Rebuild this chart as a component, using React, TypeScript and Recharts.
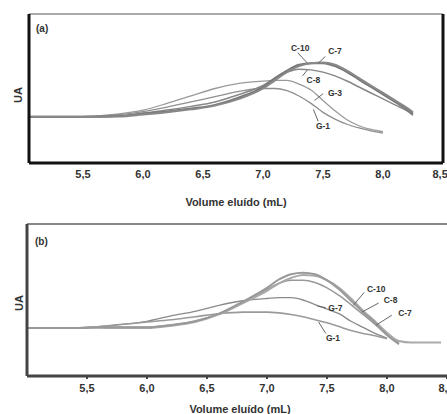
import { LineChart, Line, XAxis, YAxis, ReferenceLine, ReferenceDot } from 'recharts';

const X_TICKS = [5.5, 6.0, 6.5, 7.0, 7.5, 8.0, 8.5];

// panel (a)
const volA = [5.05, 5.4, 5.6, 5.8, 6.0, 6.2, 6.4, 6.6, 6.8, 7.0, 7.1, 7.2, 7.3, 7.4, 7.5, 7.6, 7.7, 7.8, 7.9, 8.0, 8.1, 8.2, 8.25];
const c10A = [31, 31, 31, 31.5, 33, 34.5, 36.5, 39, 44, 51, 57, 62, 66, 67, 67, 65, 61, 56, 51, 46, 41, 36, 33];
const c7A = [31, 31, 31, 31.2, 32.5, 34, 36, 38.5, 43, 50, 55.5, 61, 65, 67, 67.5, 66, 62, 57, 52, 47, 42, 37, 34];
const c8A = [31, 31, 31, 31.5, 33.5, 35.5, 38, 41, 46, 52, 57, 61, 63, 62.5, 61, 58.5, 55, 51, 47, 43, 39, 35, 32];
const g3A = [31, 31, 31.5, 33, 35.5, 40, 45, 50, 53.5, 55, 55.5, 55.5, 53, 49, 42, 35, 29, 25, 22.5, 21, null, null, null];
const g1A = [31, 31, 31.5, 32.5, 34.5, 37.5, 41, 44.5, 48, 50, 50, 48.5, 45, 40, 34, 29.5, 26, 23.5, 21.5, 20, null, null, null];

// panel (b)
const volB = [5.0, 5.4, 5.6, 5.8, 6.0, 6.2, 6.4, 6.6, 6.8, 7.0, 7.1, 7.2, 7.3, 7.4, 7.5, 7.6, 7.7, 7.8, 7.9, 8.0, 8.1, 8.2, 8.3, 8.45];
const c10B = [31.6, 31.6, 32, 32, 32, 33.5, 36, 41, 49, 58, 63.5, 67, 68, 67, 63, 57, 49.5, 42, 35, 27, 21, null, null, null];
const c8B = [31.6, 31.6, 32, 32, 32, 33.5, 36, 41, 48.5, 57, 61, 63, 63, 61.5, 58, 53, 47, 40.5, 34, 27, 22, null, null, null];
const c7B = [31.6, 31.6, 31.8, 31.5, 31.5, 33, 35.5, 40.5, 48, 56, 61, 64.5, 66.5, 66, 63, 58, 51, 43, 36, 28.5, 23, 22, 22, 22];
const g7B = [31.6, 31.6, 32.5, 34, 36, 39.5, 42.5, 46.5, 49.5, 51, 51.5, 51.5, 50, 47, 44, 41, 36, 32, 28, 25, null, null, null, null];
const g1B = [31.6, 31.6, 32.5, 34, 35.5, 37, 39, 41, 42, 42, 41.5, 40.5, 39, 37, 35, 32.5, 30, 28, 26.5, 24.5, null, null, null, null];

// curve labels: text position and leader line (data units)
const notesA = [
  { text: 'C-10', x: 7.31, y: 77, from: [7.37, 67], to: [7.29, 74] },
  { text: 'C-7', x: 7.6, y: 75, from: [7.46, 67], to: [7.52, 71.5] },
  { text: 'C-8', x: 7.42, y: 55.5, from: [7.37, 62.5], to: [7.33, 58.5] },
  { text: 'G-3', x: 7.6, y: 47, from: [7.43, 42], to: [7.5, 46.5] },
  { text: 'G-1', x: 7.5, y: 25, from: [7.42, 36], to: [7.46, 28] },
];
const notesB = [
  { text: 'C-10', x: 7.91, y: 57, from: [7.72, 46.5], to: [7.81, 55] },
  { text: 'C-8', x: 8.03, y: 50, from: [7.79, 42], to: [7.93, 48] },
  { text: 'C-7', x: 8.15, y: 41.5, from: [7.91, 33.5], to: [8.04, 40] },
  { text: 'G-7', x: 7.57, y: 44.5, from: [7.42, 46], to: [7.49, 45] },
  { text: 'G-1', x: 7.55, y: 25, from: [7.43, 35.5], to: [7.49, 28] },
];

const FONT = '"Liberation Sans", Arial, sans-serif';
const INK = '#333';
const fmt = (v: number) => v.toFixed(1).replace('.', ',');

function Panel({ vol, series, notes, domain, width, height, yWidth, xHeight, frame, top, tag, tickSize, tickLine, tickMargin, titleOffset }: any) {
  const data = vol.map((v: number, i: number) => {
    const row: any = { v };
    series.forEach((s: any) => { row[s.key] = s.values[i]; });
    return row;
  });
  return (
    <div style={{ position: 'absolute', left: 0, top, width, height }}>
      <LineChart width={width} height={height} data={data} margin={{ top: 14, right: width === 447 ? 4 : 0, bottom: 0, left: 0 }}>
        <XAxis
          dataKey="v"
          type="number"
          domain={domain}
          ticks={X_TICKS}
          allowDataOverflow
          height={xHeight}
          tickFormatter={fmt}
          tickSize={tickSize}
          tickMargin={tickMargin}
          tickLine={tickLine ? { stroke: frame.axis, strokeWidth: 2 } : false}
          axisLine={{ stroke: frame.axis, strokeWidth: 3 }}
          tick={{ fill: INK, fontSize: 11, fontWeight: 700, fontFamily: FONT }}
          label={{ value: 'Volume eluído (mL)', position: 'insideBottom', offset: titleOffset, fill: INK, fontSize: 11, fontWeight: 700, fontFamily: FONT }}
        />
        <YAxis domain={[0, 100]} width={yWidth} tick={false} tickLine={false} axisLine={{ stroke: frame.axis, strokeWidth: 3 }} />
        <ReferenceLine y={100} stroke={frame.top} strokeWidth={2} ifOverflow="visible" />
        {frame.right && <ReferenceLine x={domain[1]} stroke={frame.axis} strokeWidth={3} ifOverflow="visible" />}
        {series.map((s: any) => (
          <Line key={s.key} dataKey={s.key} type="monotone" stroke={s.color} strokeWidth={s.width} dot={false} isAnimationActive={false} />
        ))}
        {notes.map((n: any) => (
          <ReferenceLine key={n.text + 'l'} segment={[{ x: n.from[0], y: n.from[1] }, { x: n.to[0], y: n.to[1] }]} stroke="#666" strokeWidth={1} />
        ))}
        {notes.map((n: any) => (
          <ReferenceDot key={n.text} x={n.x} y={n.y} r={0} stroke="none" label={{ value: n.text, position: 'center', fill: INK, fontSize: 8.5, fontWeight: 700, fontFamily: FONT }} />
        ))}
      </LineChart>
      <div style={{ position: 'absolute', left: tag.x, top: tag.y, fontFamily: FONT, fontSize: 10, fontWeight: 700, color: INK, lineHeight: 1 }}>{tag.text}</div>
      <div style={{ position: 'absolute', left: tag.uaX, top: tag.uaY, fontFamily: FONT, fontSize: 11, fontWeight: 700, color: INK, lineHeight: 1, transform: 'translate(-50%, -50%) rotate(-90deg)' }}>UA</div>
    </div>
  );
}

export default function App() {
  const seriesA = [
    { key: 'g3', values: g3A, color: '#9a9a9a', width: 1.3 },
    { key: 'g1', values: g1A, color: '#8f8f8f', width: 1.3 },
    { key: 'c8', values: c8A, color: '#888', width: 1.5 },
    { key: 'c10', values: c10A, color: '#777', width: 2 },
    { key: 'c7', values: c7A, color: '#888', width: 2 },
  ];
  const seriesB = [
    { key: 'g7', values: g7B, color: '#8a8a8a', width: 1.3 },
    { key: 'g1', values: g1B, color: '#9a9a9a', width: 1.6 },
    { key: 'c8', values: c8B, color: '#999', width: 1.5 },
    { key: 'c7', values: c7B, color: '#aaa', width: 2 },
    { key: 'c10', values: c10B, color: '#999', width: 2 },
  ];
  return (
    <div style={{ position: 'absolute', left: 0, top: 0, width: 447, height: 414, overflow: 'hidden', background: '#fff' }}>
      <Panel
        vol={volA}
        series={seriesA}
        notes={notesA}
        domain={[5.05, 8.5]}
        width={447}
        height={210}
        yWidth={29}
        xHeight={47}
        top={0}
        tickSize={4}
        tickLine={false}
        tickMargin={3}
        titleOffset={4}
        frame={{ axis: '#111', top: '#aaa', right: true }}
        tag={{ text: '(a)', x: 36, y: 24, uaX: 18, uaY: 95 }}
      />
      <Panel
        vol={volB}
        series={seriesB}
        notes={notesB}
        domain={[5.0, 8.55]}
        width={453}
        height={204}
        yWidth={27}
        xHeight={38}
        top={210}
        tickSize={3}
        tickLine
        tickMargin={5}
        titleOffset={1}
        frame={{ axis: '#444', top: '#888', right: false }}
        tag={{ text: '(b)', x: 35, y: 27, uaX: 19, uaY: 93 }}
      />
    </div>
  );
}
